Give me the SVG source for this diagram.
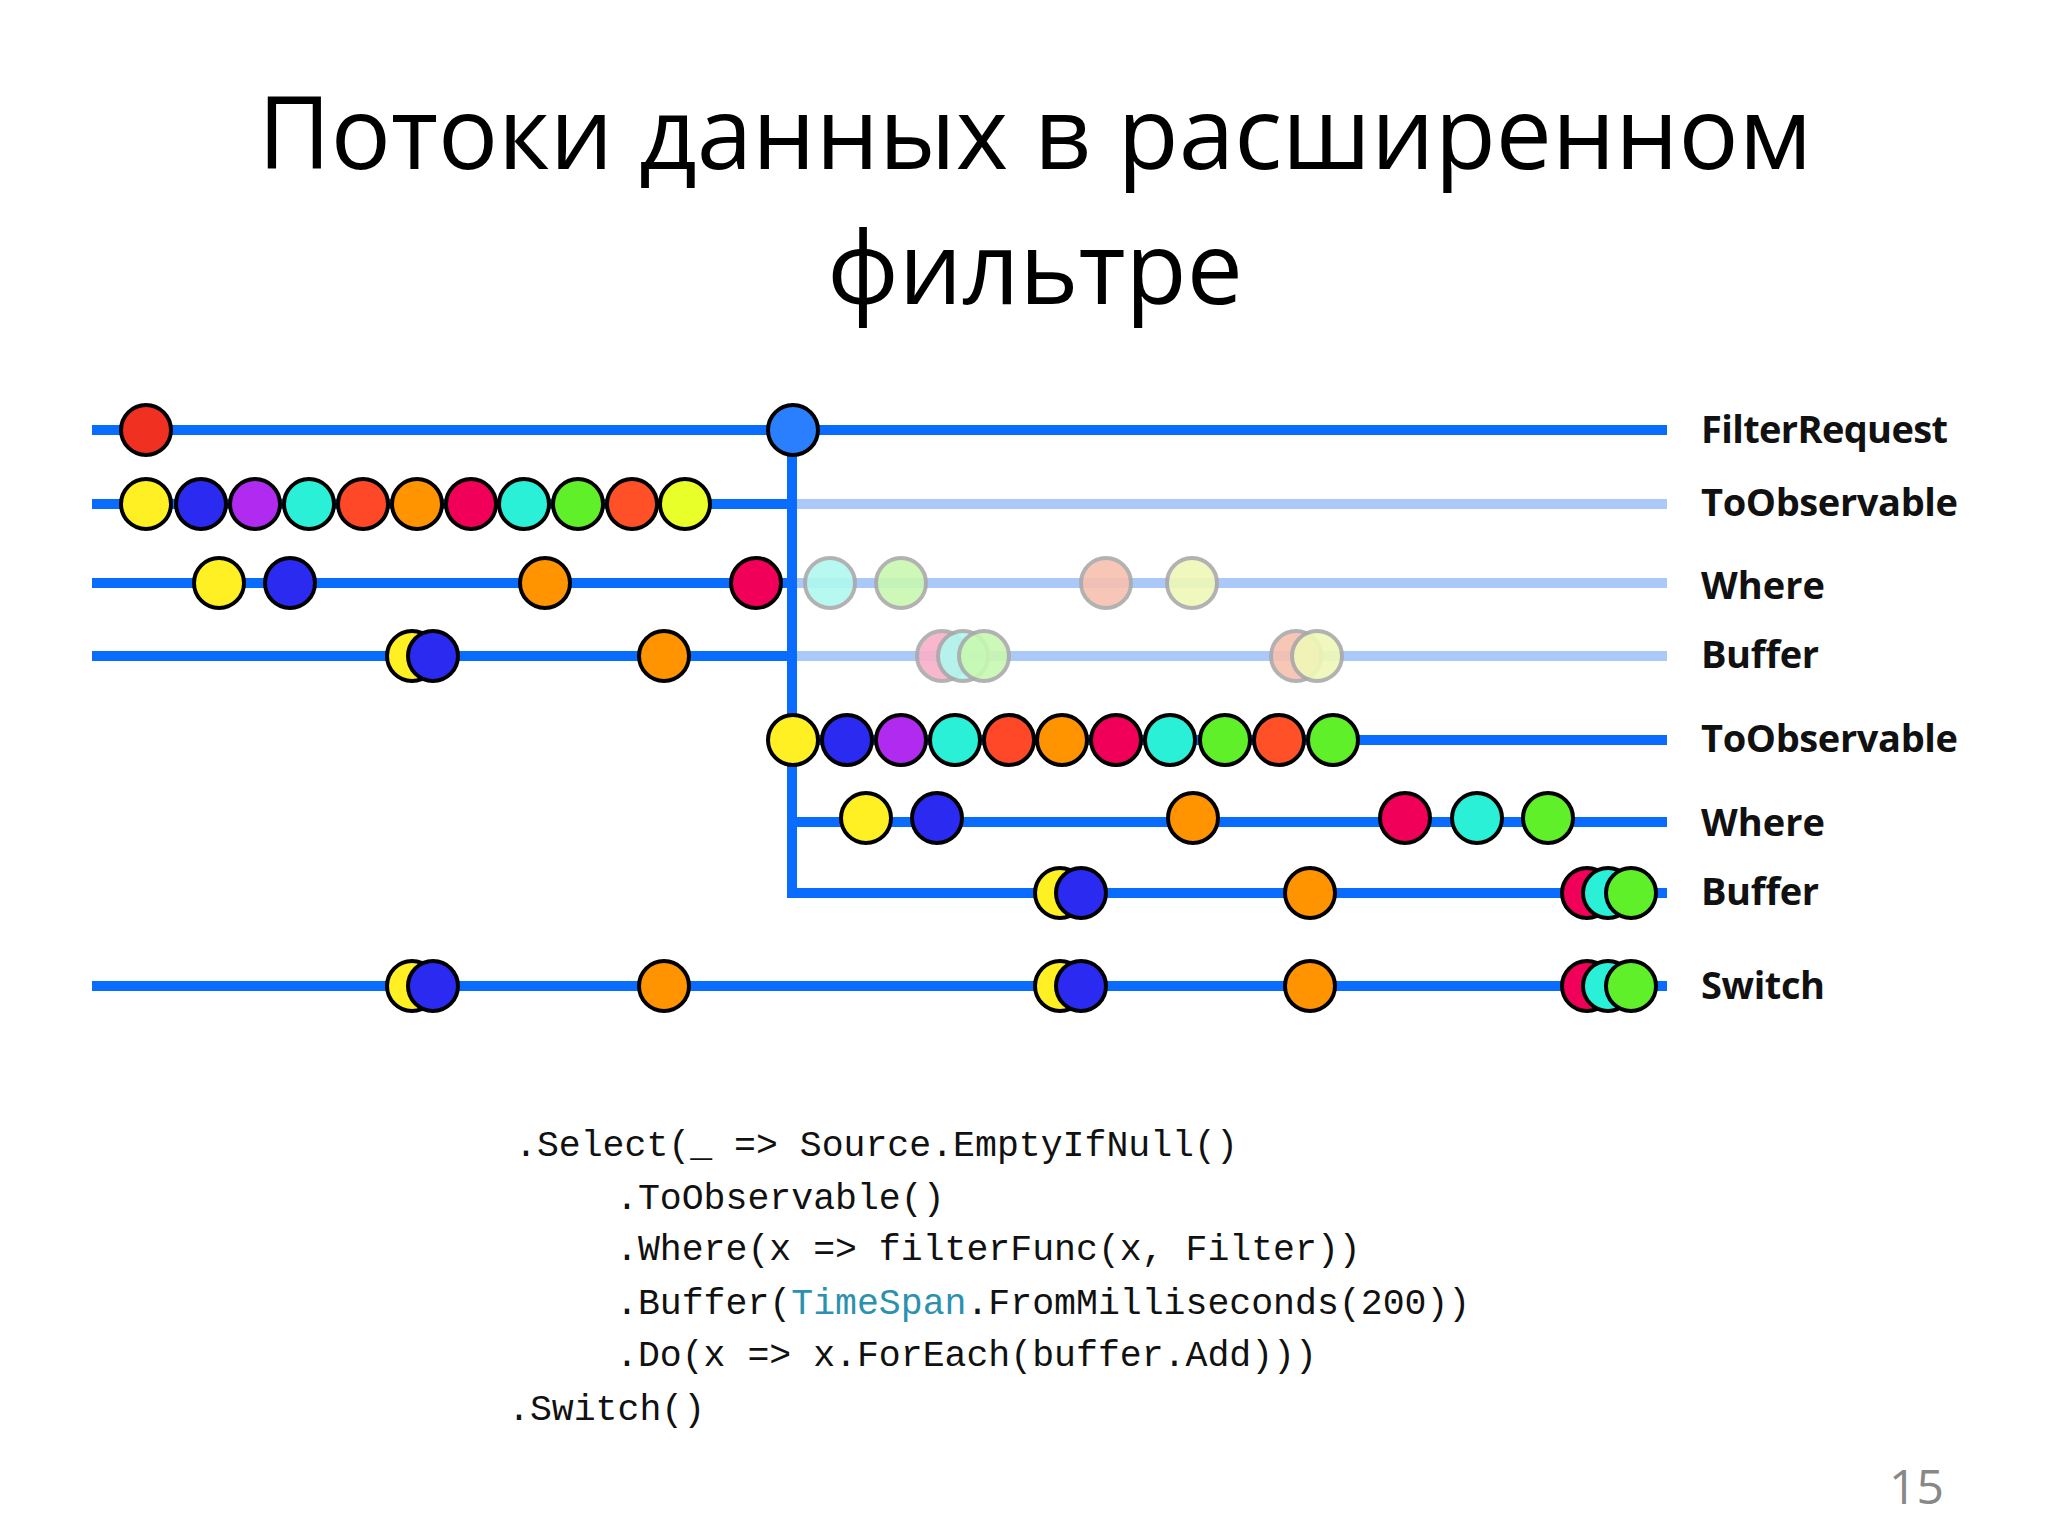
<svg xmlns="http://www.w3.org/2000/svg" width="2048" height="1536" viewBox="0 0 2048 1536">
<style>
.ln{stroke:#0a6cff;stroke-width:10;fill:none}
.lt{stroke:#aac8f8;stroke-width:10;fill:none}
.c{stroke:#000;stroke-width:4}
.f{stroke:#aaa;stroke-width:4;opacity:.9}
.lb{font-family:"Open Sans","DejaVu Sans",sans-serif;font-weight:bold;font-size:38px;fill:#111}
.code{font-family:"Liberation Mono",monospace;font-size:36.5px;fill:#111}
</style>
<rect width="2048" height="1536" fill="#fff"/>
<text x="1035" y="169" text-anchor="middle" font-family="Open Sans,sans-serif" font-size="100" fill="#000">Потоки данных в расширенном</text>
<text x="1035" y="304" text-anchor="middle" font-family="Open Sans,sans-serif" font-size="100" fill="#000">фильтре</text>
<g id="connectors">
<path class="ln" d="M92 430H1667"/>
<path class="ln" d="M92 504H792"/><path class="lt" d="M797 504H1667"/>
<path class="ln" d="M92 583H792"/><path class="lt" d="M797 583H1667"/>
<path class="ln" d="M92 656H792"/><path class="lt" d="M797 656H1667"/>
<path class="ln" d="M792 740H1667"/>
<path class="ln" d="M792 822H1667"/>
<path class="ln" d="M792 430V893H1667" stroke-width="6"/>
<path class="ln" d="M792 893H1667"/>
<path class="ln" d="M92 986H1667"/>
</g>
<g id="row1">
<circle class="c" cx="146" cy="430" r="25" fill="#f03020"/>
<circle class="c" cx="793" cy="430" r="25" fill="#2a7fff"/>
</g>
<g id="row2">
<circle class="c" cx="146" cy="504" r="25" fill="#fff023"/>
<circle class="c" cx="201" cy="504" r="25" fill="#2a2af0"/>
<circle class="c" cx="255" cy="504" r="25" fill="#b02af0"/>
<circle class="c" cx="309" cy="504" r="25" fill="#2af0d8"/>
<circle class="c" cx="363" cy="504" r="25" fill="#ff4828"/>
<circle class="c" cx="417" cy="504" r="25" fill="#ff9400"/>
<circle class="c" cx="471" cy="504" r="25" fill="#f00058"/>
<circle class="c" cx="524" cy="504" r="25" fill="#2af0d8"/>
<circle class="c" cx="578" cy="504" r="25" fill="#60f02a"/>
<circle class="c" cx="632" cy="504" r="25" fill="#ff5028"/>
<circle class="c" cx="685" cy="504" r="25" fill="#e8ff2a"/>
</g>
<g id="row3">
<circle class="c" cx="219" cy="583" r="25" fill="#fff023"/>
<circle class="c" cx="290" cy="583" r="25" fill="#2a2af0"/>
<circle class="c" cx="545" cy="583" r="25" fill="#ff9400"/>
<circle class="c" cx="756" cy="583" r="25" fill="#f00058"/>
<circle class="f" cx="830" cy="583" r="25" fill="#b0f8f0"/>
<circle class="f" cx="901" cy="583" r="25" fill="#c8f8b0"/>
<circle class="f" cx="1106" cy="583" r="25" fill="#f8c0b0"/>
<circle class="f" cx="1192" cy="583" r="25" fill="#f0f8b8"/>
</g>
<g id="row4">
<circle class="c" cx="412" cy="656" r="25" fill="#fff023"/>
<circle class="c" cx="433" cy="656" r="25" fill="#2a2af0"/>
<circle class="c" cx="664" cy="656" r="25" fill="#ff9400"/>
<circle class="f" cx="942" cy="656" r="25" fill="#f8b0c8"/>
<circle class="f" cx="963" cy="656" r="25" fill="#b0f8f0"/>
<circle class="f" cx="984" cy="656" r="25" fill="#c8f8b0"/>
<circle class="f" cx="1296" cy="656" r="25" fill="#f8c0b0"/>
<circle class="f" cx="1317" cy="656" r="25" fill="#f0f8b8"/>
</g>
<g id="row5">
<circle class="c" cx="793" cy="740" r="25" fill="#fff023"/>
<circle class="c" cx="847" cy="740" r="25" fill="#2a2af0"/>
<circle class="c" cx="901" cy="740" r="25" fill="#b02af0"/>
<circle class="c" cx="955" cy="740" r="25" fill="#2af0d8"/>
<circle class="c" cx="1009" cy="740" r="25" fill="#ff4828"/>
<circle class="c" cx="1062" cy="740" r="25" fill="#ff9400"/>
<circle class="c" cx="1116" cy="740" r="25" fill="#f00058"/>
<circle class="c" cx="1170" cy="740" r="25" fill="#2af0d8"/>
<circle class="c" cx="1225" cy="740" r="25" fill="#60f02a"/>
<circle class="c" cx="1279" cy="740" r="25" fill="#ff5028"/>
<circle class="c" cx="1333" cy="740" r="25" fill="#60f02a"/>
</g>
<g id="row6">
<circle class="c" cx="866" cy="818" r="25" fill="#fff023"/>
<circle class="c" cx="937" cy="818" r="25" fill="#2a2af0"/>
<circle class="c" cx="1193" cy="818" r="25" fill="#ff9400"/>
<circle class="c" cx="1405" cy="818" r="25" fill="#f00058"/>
<circle class="c" cx="1477" cy="818" r="25" fill="#2af0d8"/>
<circle class="c" cx="1548" cy="818" r="25" fill="#60f02a"/>
</g>
<g id="row7">
<circle class="c" cx="1060" cy="893" r="25" fill="#fff023"/>
<circle class="c" cx="1081" cy="893" r="25" fill="#2a2af0"/>
<circle class="c" cx="1310" cy="893" r="25" fill="#ff9400"/>
<circle class="c" cx="1587" cy="893" r="25" fill="#f00058"/>
<circle class="c" cx="1608" cy="893" r="25" fill="#2af0d8"/>
<circle class="c" cx="1631" cy="893" r="25" fill="#60f02a"/>
</g>
<g id="row8">
<circle class="c" cx="412" cy="986" r="25" fill="#fff023"/>
<circle class="c" cx="433" cy="986" r="25" fill="#2a2af0"/>
<circle class="c" cx="664" cy="986" r="25" fill="#ff9400"/>
<circle class="c" cx="1060" cy="986" r="25" fill="#fff023"/>
<circle class="c" cx="1081" cy="986" r="25" fill="#2a2af0"/>
<circle class="c" cx="1310" cy="986" r="25" fill="#ff9400"/>
<circle class="c" cx="1587" cy="986" r="25" fill="#f00058"/>
<circle class="c" cx="1608" cy="986" r="25" fill="#2af0d8"/>
<circle class="c" cx="1631" cy="986" r="25" fill="#60f02a"/>
</g>
<g id="labels">
<text class="lb" x="1701" y="443" textLength="247">FilterRequest</text>
<text class="lb" x="1701" y="516" textLength="257">ToObservable</text>
<text class="lb" x="1701" y="599" textLength="124">Where</text>
<text class="lb" x="1701" y="668" textLength="118">Buffer</text>
<text class="lb" x="1701" y="752" textLength="257">ToObservable</text>
<text class="lb" x="1701" y="836" textLength="124">Where</text>
<text class="lb" x="1701" y="905" textLength="118">Buffer</text>
<text class="lb" x="1701" y="999" textLength="124">Switch</text>
</g>
<g id="code">
<text class="code" x="515" y="1156">.Select(_ =&gt; Source.EmptyIfNull()</text>
<text class="code" x="616" y="1209">.ToObservable()</text>
<text class="code" x="616" y="1260">.Where(x =&gt; filterFunc(x, Filter))</text>
<text class="code" x="616" y="1314">.Buffer(<tspan fill="#2b91af">TimeSpan</tspan>.FromMilliseconds(200))</text>
<text class="code" x="616" y="1366">.Do(x =&gt; x.ForEach(buffer.Add)))</text>
<text class="code" x="508" y="1420">.Switch()</text>
</g>
<text x="1944" y="1504" text-anchor="end" font-family="Open Sans,sans-serif" font-size="48" fill="#888">15</text>
</svg>
